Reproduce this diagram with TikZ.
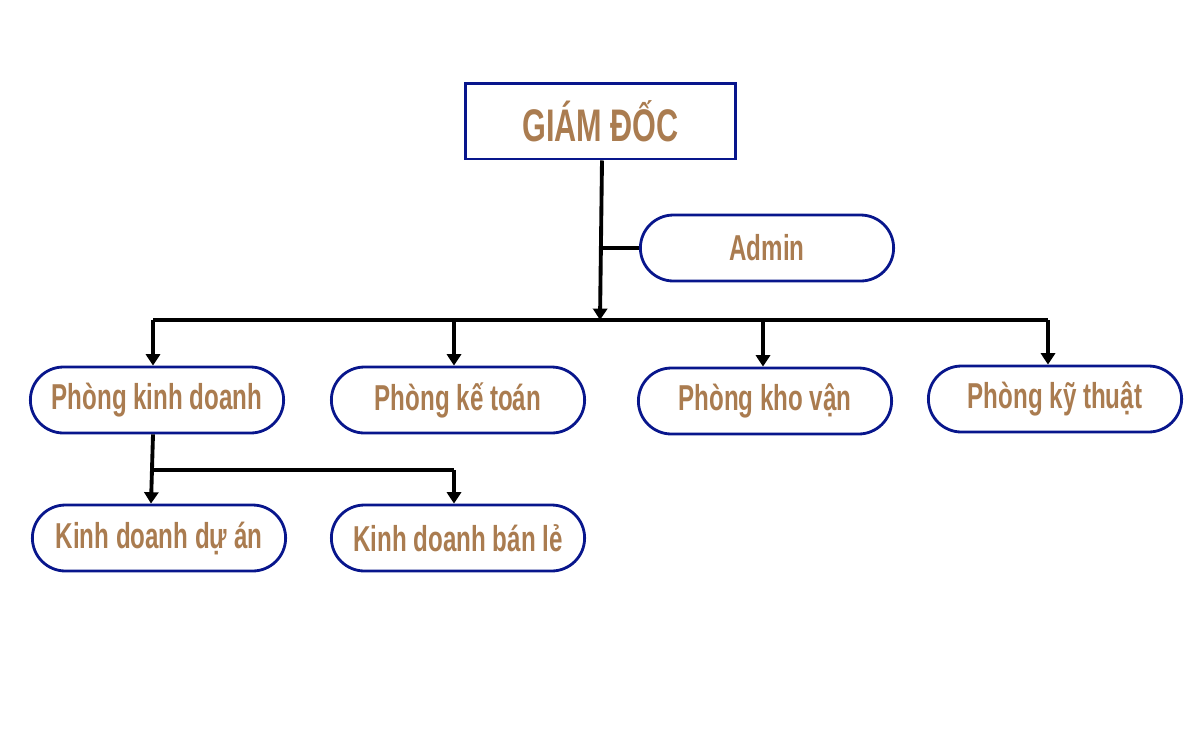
\documentclass[tikz,border=0pt]{standalone}
\usepackage{fontspec}
\setmainfont{Liberation Sans}[FakeStretch=0.67]
\usepackage{xcolor}
\usetikzlibrary{arrows.meta,shapes.misc}

\definecolor{boxblue}{RGB}{8,22,140}
\definecolor{txtbrown}{RGB}{170,124,80}

\begin{document}
\begin{tikzpicture}[x=0.02cm,y=-0.02cm,
    head/.style={rectangle,draw=boxblue,line width=1.7pt,minimum width=5.42cm,minimum height=1.52cm,
      text=txtbrown,font=\bfseries\fontsize{26}{28}\selectfont},
    dept/.style={rounded rectangle,draw=boxblue,line width=1.6pt,minimum width=5.3cm,minimum height=1.32cm,
      text=txtbrown,font=\bfseries\fontsize{20.5}{22}\selectfont},
    link/.style={line width=2.2pt,black},
    arr/.style={link,-{Triangle[width=8pt,length=6.5pt]}}]
  \useasboundingbox (0,0) rectangle (1200,738);

  % boxes
  \node[head] (gd) at (600.5,121) {GIÁM ĐỐC};
  \node[dept] (admin) at (767,248) {Admin};
  \node[dept] (pkd) at (157,400) {Phòng kinh doanh};
  \node[dept] (pkt) at (458,400) {Phòng kế toán};
  \node[dept] (pkv) at (765,401) {Phòng kho vận};
  \node[dept] (pkth) at (1055,399) {Phòng kỹ thuật};
  \node[dept] (kdda) at (159,538) {Kinh doanh dự án};
  \node[dept] (kdbl) at (458,538) {Kinh doanh bán lẻ};

  % bus points
  \coordinate (bus) at (600,320);
  \coordinate (busL) at (153,320);
  \coordinate (busR) at (1048,320);
  \coordinate (adm) at (601,248);
  \coordinate (sub) at (153,470);

  % director down to bus
  \draw[arr] (gd.south -| 602,0) -- (bus);
  \draw[link] (adm) -- (admin.west);
  \draw[link] (busL) -- (busR);
  \foreach \n/\x in {pkd/153,pkt/454,pkv/763,pkth/1048}
    \draw[arr] (\x,320) -- (\n.north -| \x,0);

  % sales sub-departments
  \draw[arr] (pkd.south -| 153,0) -- (kdda.north -| 151,0);
  \draw[link] (sub) -- (454,470);
  \draw[arr] (454,470) -- (kdbl.north -| 454,0);
\end{tikzpicture}
\end{document}
